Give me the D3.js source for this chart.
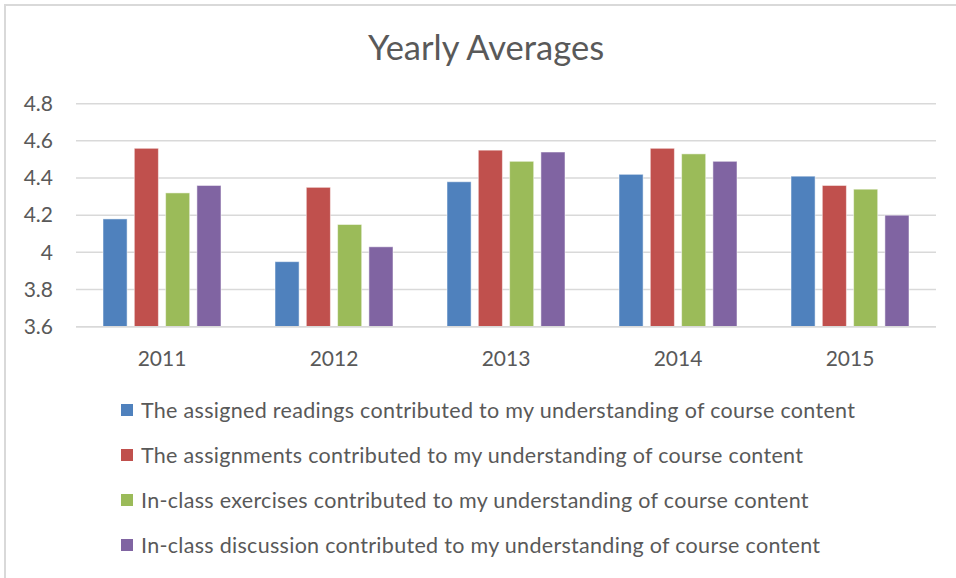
<!DOCTYPE html>
<html>
<head>
<meta charset="utf-8">
<script src="https://cdn.jsdelivr.net/npm/d3@7"></script>
<style>
  html, body { margin: 0; padding: 0; background: #fff; }
  svg { display: block; }
  text { font-family: Lato, "Open Sans", sans-serif; fill: #595959; }
</style>
</head>
<body>
<svg id="chart" width="956" height="578"></svg>
<script>
const title = "Yearly Averages";
const years = ["2011", "2012", "2013", "2014", "2015"];
const seriesNames = [
  "The assigned readings contributed to my understanding of course content",
  "The assignments contributed to my understanding of course content",
  "In-class exercises contributed to my understanding of course content",
  "In-class discussion contributed to my understanding of course content"
];
const readings    = [4.18, 3.95, 4.38, 4.42, 4.41];
const assignments = [4.56, 4.35, 4.55, 4.56, 4.36];
const exercises   = [4.32, 4.15, 4.49, 4.53, 4.34];
const discussion  = [4.36, 4.03, 4.54, 4.49, 4.20];
const yTicks = [3.6, 3.8, 4.0, 4.2, 4.4, 4.6, 4.8];
const colors = ["#4F81BD", "#C0504D", "#9BBB59", "#8064A2"];

const seriesValues = [readings, assignments, exercises, discussion];

const svg = d3.select("#chart");

// chart border (only top and left visible in the crop)
svg.append("path")
  .attr("d", "M5,578 V5 H956")
  .attr("fill", "none")
  .attr("stroke", "#D9D9D9")
  .attr("stroke-width", 2);

const plot = { left: 76, right: 936, top: 103.7, bottom: 326.7 };

const y = d3.scaleLinear().domain([3.6, 4.8]).range([plot.bottom, plot.top]);
const x0 = d3.scaleBand().domain(years).range([plot.left, plot.right]).padding(0);
const x1 = d3.scaleBand().domain(d3.range(seriesNames.length))
  .range([x0.bandwidth() * 0.157, x0.bandwidth() * 0.843])
  .paddingInner(0.23).paddingOuter(0);

// title
svg.append("text")
  .attr("x", 486).attr("y", 60)
  .attr("text-anchor", "middle")
  .style("font-size", "34.5px")
  .text(title);

// gridlines
svg.append("g")
  .selectAll("line")
  .data(yTicks)
  .join("line")
  .attr("x1", plot.left).attr("x2", plot.right)
  .attr("y1", d => y(d)).attr("y2", d => y(d))
  .attr("stroke", "#D9D9D9")
  .attr("stroke-width", 1.5);

// y axis labels
const yAxis = d3.axisLeft(y).tickValues(yTicks).tickSize(0).tickPadding(0)
  .tickFormat(d => d3.format("")(+d.toFixed(1)));
svg.append("g")
  .attr("transform", `translate(${53},0)`)
  .call(yAxis)
  .call(g => g.select(".domain").remove())
  .call(g => g.selectAll("text")
    .style("font-size", "21px")
    .attr("fill", "#595959")
    .style("font-family", "Lato, 'Open Sans', sans-serif"));

// bars
const groups = svg.append("g")
  .selectAll("g")
  .data(years)
  .join("g")
  .attr("transform", d => `translate(${x0(d)},0)`);

groups.selectAll("rect")
  .data((d, i) => seriesValues.map((vals, s) => ({ s, v: vals[i] })))
  .join("rect")
  .attr("x", d => x1(d.s))
  .attr("width", x1.bandwidth())
  .attr("y", d => y(d.v))
  .attr("height", d => y(3.6) - y(d.v))
  .attr("fill", d => colors[d.s])
  .attr("stroke", "#ffffff")
  .attr("stroke-opacity", 0.5)
  .attr("stroke-width", 1);

// x axis labels
const xAxis = d3.axisBottom(x0).tickSize(0).tickPadding(0);
svg.append("g")
  .attr("transform", `translate(0,${plot.bottom + 24})`)
  .call(xAxis)
  .call(g => g.select(".domain").remove())
  .call(g => g.selectAll("text")
    .style("font-size", "21px")
    .attr("fill", "#595959")
    .style("font-family", "Lato, 'Open Sans', sans-serif"));

// bottom axis line redraw on top
svg.append("line")
  .attr("x1", plot.left).attr("x2", plot.right)
  .attr("y1", y(3.6)).attr("y2", y(3.6))
  .attr("stroke", "#D9D9D9").attr("stroke-width", 1.5);

// legend
const legend = svg.append("g");
const legendY = d3.scalePoint().domain(d3.range(seriesNames.length)).range([410, 545]);
const items = legend.selectAll("g")
  .data(seriesNames)
  .join("g")
  .attr("transform", (d, i) => `translate(121,${legendY(i)})`);
items.append("rect")
  .attr("x", 0).attr("y", -6)
  .attr("width", 12).attr("height", 12)
  .attr("fill", (d, i) => colors[i]);
items.append("text")
  .attr("x", 20).attr("y", 7.5)
  .style("font-size", "21.5px")
  .style("letter-spacing", "0.3px")
  .text(d => d);
</script>
</body>
</html>
